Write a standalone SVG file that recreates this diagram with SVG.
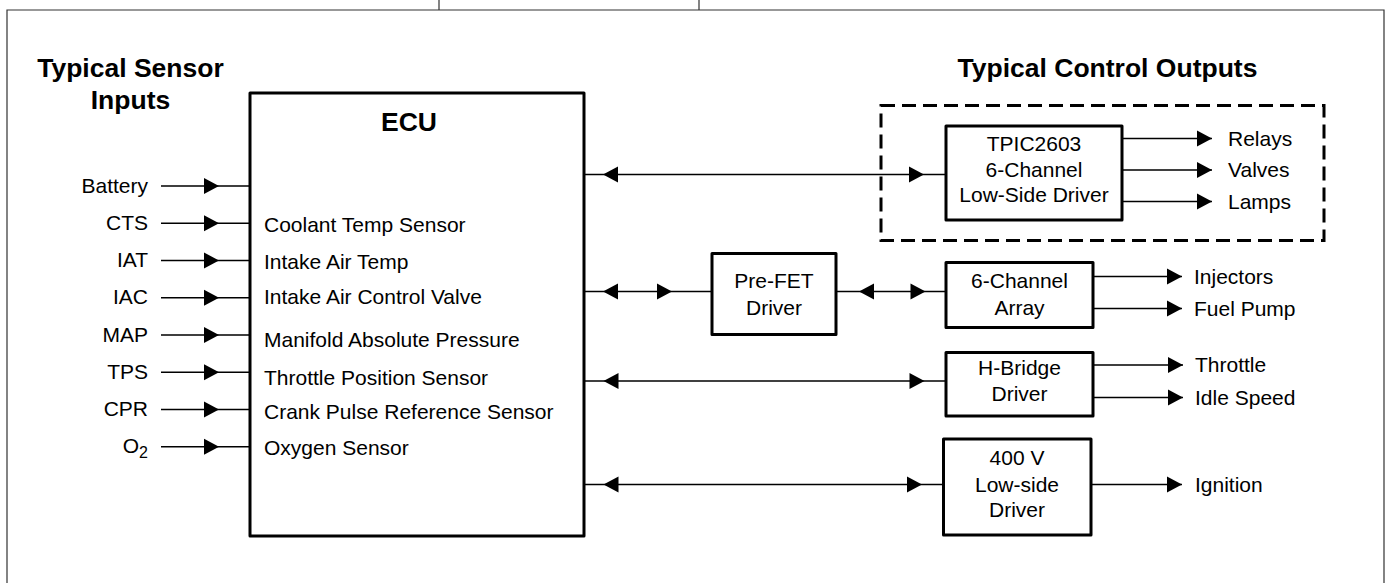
<svg xmlns="http://www.w3.org/2000/svg" xmlns:xlink="http://www.w3.org/1999/xlink" width="1386" height="583" viewBox="0 0 1386 583">
<style>
  text { font-family: "Liberation Sans", Arial, sans-serif; fill: #000; }
  .t { font-size: 21px; }
  .h { font-size: 26.5px; font-weight: bold; }
  .mid { text-anchor: middle; }
  .end { text-anchor: end; }
  .frame { fill: none; stroke: #333; stroke-width: 1.2; }
  .box { fill: #fff; stroke: #000; stroke-width: 3; stroke-linejoin: round; }
  .dash { fill: none; stroke: #000; stroke-width: 3; stroke-dasharray: 14 7; }
  .ln { fill: none; stroke: #000; stroke-width: 1.5; }
</style>
<defs>
  <path id="ar" d="M0,0 L-15,-8 L-15,8 Z" fill="#000"/>
  <path id="al" d="M0,0 L15,-8 L15,8 Z" fill="#000"/>
</defs>
<rect width="1386" height="583" fill="#fff"/>
<g id="frame">
  <path class="frame" d="M7,590 V10 H1384 V590"/>
  <path class="frame" d="M439,0 V10 M699,0 V10"/>
</g>
<g id="titles">
  <text class="h mid" x="130.5" y="77">Typical Sensor</text>
  <text class="h mid" x="130.5" y="109">Inputs</text>
  <text class="h mid" x="1107.5" y="77">Typical Control Outputs</text>
</g>
<g id="ecu">
  <rect class="box" x="250" y="93" width="334" height="443"/>
  <text class="h mid" x="409" y="131">ECU</text>
  <text class="t" x="264" y="231.5">Coolant Temp Sensor</text>
  <text class="t" x="264" y="269">Intake Air Temp</text>
  <text class="t" x="264" y="304">Intake Air Control Valve</text>
  <text class="t" x="264" y="346.5">Manifold Absolute Pressure</text>
  <text class="t" x="264" y="385">Throttle Position Sensor</text>
  <text class="t" x="264" y="419">Crank Pulse Reference Sensor</text>
  <text class="t" x="264" y="455">Oxygen Sensor</text>
</g>
<g id="inputs">
  <text class="t end" x="148" y="192.5">Battery</text>
  <text class="t end" x="148" y="229.5">CTS</text>
  <text class="t end" x="148" y="267">IAT</text>
  <text class="t end" x="148" y="304">IAC</text>
  <text class="t end" x="148" y="341.5">MAP</text>
  <text class="t end" x="148" y="378.5">TPS</text>
  <text class="t end" x="148" y="416">CPR</text>
  <text class="t end" x="148" y="453">O<tspan font-size="16" dy="5">2</tspan></text>
</g>
<g id="tpic-group">
  <rect class="dash" x="881" y="105.5" width="443" height="135"/>
</g>
<g id="tpic">
  <rect class="box" x="946" y="126" width="176" height="94"/>
  <text class="t mid" x="1034" y="151">TPIC2603</text>
  <text class="t mid" x="1034" y="177">6-Channel</text>
  <text class="t mid" x="1034" y="202">Low-Side Driver</text>
</g>
<g id="prefet">
  <rect class="box" x="712" y="253.5" width="124" height="81"/>
  <text class="t mid" x="774" y="288">Pre-FET</text>
  <text class="t mid" x="774" y="315">Driver</text>
</g>
<g id="array">
  <rect class="box" x="946" y="262.5" width="147" height="65"/>
  <text class="t mid" x="1019.5" y="288">6-Channel</text>
  <text class="t mid" x="1019.5" y="315">Array</text>
</g>
<g id="hbridge">
  <rect class="box" x="946" y="352.5" width="147" height="63.5"/>
  <text class="t mid" x="1019.5" y="374.5">H-Bridge</text>
  <text class="t mid" x="1019.5" y="401">Driver</text>
</g>
<g id="ls400">
  <rect class="box" x="943.5" y="439" width="147.5" height="96"/>
  <text class="t mid" x="1017" y="465">400 V</text>
  <text class="t mid" x="1017" y="491.5">Low-side</text>
  <text class="t mid" x="1017" y="517">Driver</text>
</g>
<g id="outputs">
  <text class="t" x="1228" y="145.5">Relays</text>
  <text class="t" x="1228" y="177">Valves</text>
  <text class="t" x="1228" y="209">Lamps</text>
  <text class="t" x="1194" y="284">Injectors</text>
  <text class="t" x="1194" y="315.5">Fuel Pump</text>
  <text class="t" x="1195" y="372">Throttle</text>
  <text class="t" x="1195" y="404.5">Idle Speed</text>
  <text class="t" x="1195" y="491.5">Ignition</text>
</g>
<g id="connectors">
  <path class="ln" d="M161,186 H250 M161,223.25 H250 M161,260.5 H250 M161,297.75 H250 M161,335 H250 M161,372.25 H250 M161,409.5 H250 M161,446.75 H250"/>
  <use href="#ar" xlink:href="#ar" x="219" y="186"/>
  <use href="#ar" xlink:href="#ar" x="219" y="223.25"/>
  <use href="#ar" xlink:href="#ar" x="219" y="260.5"/>
  <use href="#ar" xlink:href="#ar" x="219" y="297.75"/>
  <use href="#ar" xlink:href="#ar" x="219" y="335"/>
  <use href="#ar" xlink:href="#ar" x="219" y="372.25"/>
  <use href="#ar" xlink:href="#ar" x="219" y="409.5"/>
  <use href="#ar" xlink:href="#ar" x="219" y="446.75"/>

  <path class="ln" d="M584,174.5 H946"/>
  <use href="#al" xlink:href="#al" x="603" y="174.5"/>
  <use href="#ar" xlink:href="#ar" x="924" y="174.5"/>

  <path class="ln" d="M584,291.5 H712 M836,291.5 H946"/>
  <use href="#al" xlink:href="#al" x="603" y="291.5"/>
  <use href="#ar" xlink:href="#ar" x="672" y="291.5"/>
  <use href="#al" xlink:href="#al" x="859" y="291.5"/>
  <use href="#ar" xlink:href="#ar" x="925.5" y="291.5"/>

  <path class="ln" d="M584,381 H946"/>
  <use href="#al" xlink:href="#al" x="603.5" y="381"/>
  <use href="#ar" xlink:href="#ar" x="924.5" y="381"/>

  <path class="ln" d="M584,484.5 H943.5"/>
  <use href="#al" xlink:href="#al" x="603.5" y="484.5"/>
  <use href="#ar" xlink:href="#ar" x="922" y="484.5"/>

  <path class="ln" d="M1122,138.5 H1212 M1122,170 H1212 M1122,201.5 H1212"/>
  <use href="#ar" xlink:href="#ar" x="1212" y="138.5"/>
  <use href="#ar" xlink:href="#ar" x="1212" y="170"/>
  <use href="#ar" xlink:href="#ar" x="1212" y="201.5"/>

  <path class="ln" d="M1093,276.5 H1182 M1093,308.5 H1182"/>
  <use href="#ar" xlink:href="#ar" x="1182" y="276.5"/>
  <use href="#ar" xlink:href="#ar" x="1182" y="308.5"/>

  <path class="ln" d="M1093,365 H1183 M1093,397.5 H1183"/>
  <use href="#ar" xlink:href="#ar" x="1183" y="365"/>
  <use href="#ar" xlink:href="#ar" x="1183" y="397.5"/>

  <path class="ln" d="M1091,484.5 H1182"/>
  <use href="#ar" xlink:href="#ar" x="1182" y="484.5"/>
</g>
</svg>
